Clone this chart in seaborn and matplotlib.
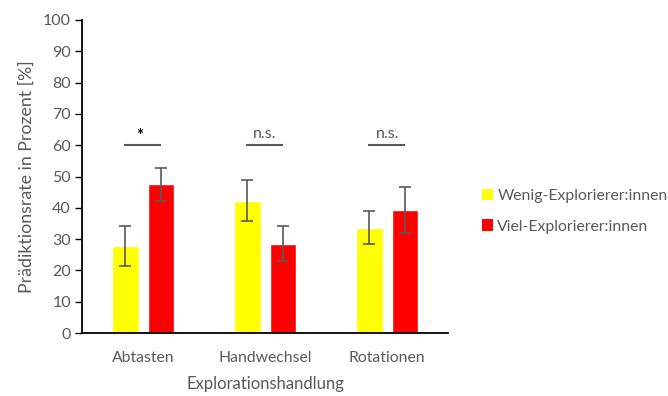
import matplotlib
matplotlib.use("Agg")
import matplotlib.pyplot as plt
from matplotlib.patches import Patch
import pandas as pd
import seaborn as sns

# Mean prediction rate (%) and error per exploration action and group
categories = ["Abtasten", "Handwechsel", "Rotationen"]
groups = ["Wenig-Explorierer:innen", "Viel-Explorierer:innen"]
wenig_mean = [27.7, 42.3, 33.7]
wenig_err = [6.4, 6.6, 5.4]
viel_mean = [47.5, 28.6, 39.3]
viel_err = [5.2, 5.7, 7.5]
significance = ["*", "n.s.", "n.s."]
yticks = list(range(0, 101, 10))

colors = ["#FFFF00", "#FF0000"]
text_gray = "#595959"

sns.set_theme(style="white")
plt.rcParams["font.family"] = ["Lato", "DejaVu Sans"]

df = pd.DataFrame({
    "Explorationshandlung": categories * 2,
    "Gruppe": [groups[0]] * 3 + [groups[1]] * 3,
    "Rate": wenig_mean + viel_mean,
})
errs = wenig_err + viel_err

fig = plt.figure(figsize=(6.68, 3.96), dpi=100)
ax = fig.add_axes([0.1228, 0.159, 0.548, 0.7905])

sns.barplot(data=df, x="Explorationshandlung", y="Rate", hue="Gruppe",
            palette=colors, errorbar=None, width=0.582, gap=0.254,
            saturation=1, legend=False, ax=ax)

# error bars on the bar centres
for patch, val, err in zip(ax.patches, df["Rate"], errs):
    xc = patch.get_x() + patch.get_width() / 2
    ax.errorbar(xc, val, yerr=err, fmt="none", ecolor="#595959",
                elinewidth=1.2, capsize=4.5, capthick=1.2, zorder=3)

# significance brackets
for i, label in enumerate(significance):
    ax.plot([i - 0.16, i + 0.15], [60, 60], color="#595959", lw=1.5,
            solid_capstyle="butt")
    if label == "*":
        ax.text(i - 0.025, 60.4, label, ha="center", va="bottom",
                fontsize=12, color="black", fontweight="bold")
    else:
        ax.text(i, 61.4, label, ha="center", va="bottom",
                fontsize=11.5, color=text_gray)

ax.set_xlim(-0.5, 2.5)
ax.set_ylim(0, 100)
ax.set_yticks(yticks)
ax.set_yticklabels([str(t) for t in yticks])
ax.set_xlabel("Explorationshandlung", fontsize=12, color=text_gray, labelpad=8)
ax.set_ylabel("Prädiktionsrate in Prozent [%]", fontsize=12.8, color=text_gray,
              labelpad=6)
ax.tick_params(axis="y", which="both", left=True, length=5, width=1,
               color="black", labelsize=11.5, labelcolor=text_gray, pad=3)
ax.tick_params(axis="x", bottom=False, labelsize=11.3, labelcolor=text_gray,
               pad=7)
for side in ["top", "right"]:
    ax.spines[side].set_visible(False)
for side in ["left", "bottom"]:
    ax.spines[side].set_color("black")
    ax.spines[side].set_linewidth(1.3)

handles = [Patch(facecolor=c, edgecolor="none") for c in colors]
fig.legend(handles, groups, loc="center left", bbox_to_anchor=(0.7, 0.467),
           frameon=False, fontsize=11.3, labelcolor=text_gray,
           handlelength=0.75, handleheight=0.75, handletextpad=0.25,
           labelspacing=1.05)

fig.savefig("out.png", dpi=100)
